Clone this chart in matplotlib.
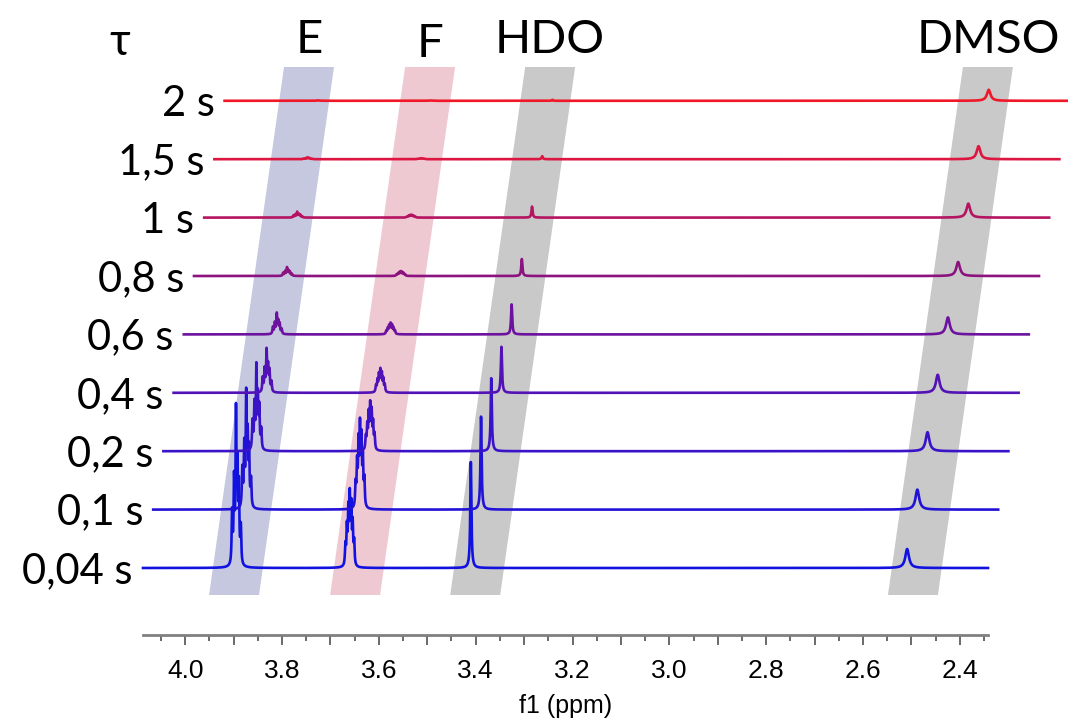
import numpy as np
import matplotlib.pyplot as plt
from matplotlib import transforms
from matplotlib.ticker import MultipleLocator, FuncFormatter
from matplotlib.patches import Polygon

# Relaxation delays, bottom trace first
delays = ['0,04 s', '0,1 s', '0,2 s', '0,4 s', '0,6 s', '0,8 s', '1 s', '1,5 s', '2 s']
trace_colors = ['#1212e0', '#2212d6', '#3a12c8', '#5212b6', '#6c129e',
                '#8c1280', '#b41460', '#dc1640', '#f01828']

# Signal heights in each trace (above baseline), bottom trace first
E_height = [165, 122, 89, 45, 22, 9, 6, 2, 0.5]
F_height = [80, 92, 51, 25, 12, 5, 3, 1, 0.3]
HDO_height = [106, 93, 73, 46, 30, 17, 11, 3, 1]
DMSO_height = [19, 20, 19, 18, 17, 14, 14, 13, 11]

# Line positions (ppm) and relative intensities inside each signal
E_lines = [3.903, 3.899, 3.895, 3.892, 3.889, 3.885]
E_rel = [0.35, 0.55, 1.0, 0.6, 0.5, 0.25]
F_lines = [3.669, 3.666, 3.663, 3.660, 3.657, 3.654, 3.651]
F_rel = [0.3, 0.55, 0.8, 1.0, 0.85, 0.6, 0.35]
HDO_ppm = 3.410
DMSO_ppm = 2.509

# Shaded bands
band_labels = ['E', 'F', 'HDO', 'DMSO']
band_ppm = [3.899, 3.649, 3.401, 2.497]
band_colors = ['#c5c8df', '#efc9d2', '#c9c9c9', '#c9c9c9']

x_left, x_right = 4.087, 2.342
px_per_ppm = 484.4
step_y = 58.4              # vertical offset between traces
step_x = 10.2 / px_per_ppm  # horizontal offset between traces
base0 = 67


def lor(x, x0, hw):
    return 1.0 / (1.0 + ((x - x0) / hw) ** 2)


def multiplet(x, lines, rel, hw):
    s = sum(r * lor(x, l, hw) for l, r in zip(lines, rel))
    return s / s.max()


fig = plt.figure(figsize=(10.68, 7.2), dpi=100)
ax = fig.add_axes([143 / 1068, 85 / 720, (988 - 143) / 1068, 635 / 720])
ax.set_xlim(x_left, x_right)
ax.set_ylim(0, 635)

x = np.linspace(x_left, x_right, 12000)
shape_E = multiplet(x, E_lines, E_rel, 0.0011)
shape_F = multiplet(x, F_lines, F_rel, 0.0011)
shape_HDO = lor(x, HDO_ppm, 0.0014)
shape_DMSO = lor(x, DMSO_ppm, 0.0045)

# Bands behind the traces
y_bot, y_top = 40, 568
lean = 75 / px_per_ppm
half_w = 25 / px_per_ppm
for lab, c, col in zip(band_labels, band_ppm, band_colors):
    poly = Polygon([(c + half_w, y_bot), (c - half_w, y_bot),
                    (c - lean - half_w, y_top), (c - lean + half_w, y_top)],
                   closed=True, facecolor=col, edgecolor='none', zorder=1, clip_on=False)
    ax.add_patch(poly)
    ax.text(c - lean, 582 if lab != 'F' else 578, lab, ha='center', va='baseline',
            fontsize=34, family=['Lato', 'DejaVu Sans'], color='black', clip_on=False)

# Traces
for k, lab in enumerate(delays):
    base = base0 + k * step_y
    y = (base + E_height[k] * shape_E + F_height[k] * shape_F
         + HDO_height[k] * shape_HDO + DMSO_height[k] * shape_DMSO)
    xs = x - k * step_x
    ax.plot(xs, y, color=trace_colors[k], lw=1.9, zorder=3, clip_on=False)
    tr = transforms.offset_copy(ax.transData, fig=fig, x=-10, y=-15, units='dots')
    ax.text(xs[0], base, lab, transform=tr, ha='right', va='baseline',
            fontsize=30, family=['Lato', 'DejaVu Sans'], color='black', clip_on=False)

fig.text(120 / 1068, 1 - 55 / 720, 'τ', ha='center', va='baseline',
         fontsize=32, family=['Lato', 'DejaVu Sans'], color='black')

# Axis styling
for s in ['top', 'left', 'right']:
    ax.spines[s].set_visible(False)
ax.spines['bottom'].set_color('#808080')
ax.spines['bottom'].set_linewidth(2)
ax.set_yticks([])
ax.xaxis.set_major_locator(MultipleLocator(0.1))
ax.xaxis.set_minor_locator(MultipleLocator(0.05))
ax.xaxis.set_major_formatter(FuncFormatter(
    lambda v, p: '%.1f' % v if int(round(v * 10)) % 2 == 0 else ''))
ax.tick_params(axis='x', which='major', length=7, width=1.2, color='#505050',
               pad=10, labelsize=19, labelfontfamily='Liberation Sans')
ax.tick_params(axis='x', which='minor', length=4, width=1.2, color='#505050')
ax.set_xlabel('f1 (ppm)', fontsize=18, family='Liberation Sans', labelpad=8)

fig.savefig('out.png', dpi=100)
